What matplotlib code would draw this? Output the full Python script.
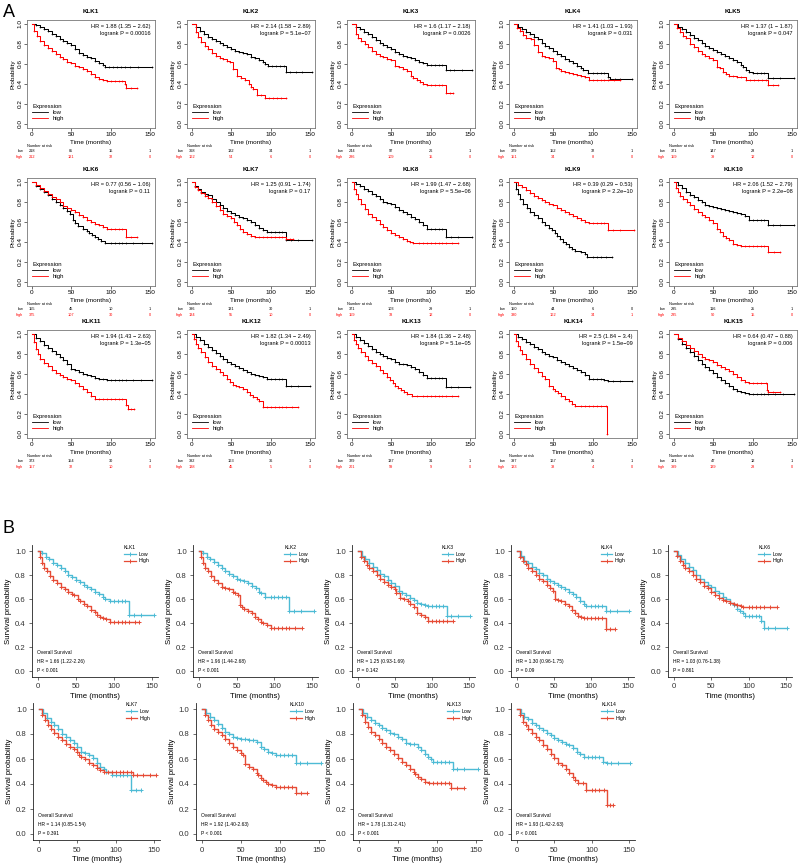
import matplotlib
matplotlib.use('Agg')
import matplotlib.pyplot as plt
from matplotlib.lines import Line2D
from matplotlib.transforms import blended_transform_factory

plt.rcParams['font.family'] = ['Liberation Sans', 'DejaVu Sans']

# ---------------- Panel A data (time, survival) ----------------
a1_low = [(0,1.00),(5,0.99),(10,0.97),(15,0.95),(20,0.93),(25,0.90),(30,0.88),(35,0.85),(40,0.83),(45,0.81),(50,0.79),(55,0.75),(60,0.71),(65,0.69),(70,0.67),(75,0.66),(80,0.63),(85,0.61),(90,0.59),(93,0.57),(98,0.57),(103,0.57),(108,0.57),(113,0.57),(118,0.57),(125,0.57),(135,0.57),(152,0.57)]
a1_high = [(0,1.00),(3,0.93),(6,0.88),(10,0.83),(15,0.79),(20,0.76),(25,0.73),(30,0.70),(35,0.67),(40,0.65),(45,0.62),(50,0.61),(55,0.58),(60,0.57),(65,0.55),(70,0.53),(75,0.50),(80,0.47),(85,0.45),(90,0.44),(95,0.43),(100,0.43),(105,0.43),(110,0.43),(115,0.43),(118,0.40),(120,0.36),(126,0.36),(133,0.36)]
a2_low = [(0,1.00),(5,0.97),(10,0.93),(15,0.90),(20,0.87),(25,0.85),(30,0.83),(35,0.81),(40,0.79),(45,0.77),(50,0.75),(55,0.73),(60,0.72),(65,0.71),(70,0.70),(75,0.67),(80,0.66),(85,0.64),(90,0.62),(93,0.60),(97,0.58),(102,0.58),(107,0.58),(112,0.58),(117,0.58),(120,0.52),(125,0.52),(132,0.52),(140,0.52),(152,0.52)]
a2_high = [(0,1.00),(5,0.92),(8,0.87),(12,0.82),(16,0.78),(20,0.75),(25,0.71),(30,0.68),(35,0.66),(40,0.65),(45,0.63),(48,0.62),(52,0.55),(57,0.48),(62,0.46),(67,0.44),(72,0.40),(75,0.37),(78,0.35),(83,0.29),(88,0.29),(93,0.26),(98,0.26),(103,0.26),(108,0.26),(113,0.26),(120,0.26)]
a3_low = [(0,1.00),(5,0.97),(10,0.95),(15,0.92),(20,0.90),(25,0.87),(30,0.84),(35,0.81),(40,0.79),(45,0.77),(50,0.75),(55,0.72),(60,0.70),(65,0.68),(70,0.67),(75,0.66),(80,0.64),(85,0.62),(90,0.61),(95,0.59),(100,0.59),(105,0.59),(110,0.59),(115,0.59),(120,0.54),(125,0.54),(130,0.54),(140,0.54),(152,0.54)]
a3_high = [(0,1.00),(5,0.90),(8,0.86),(12,0.83),(16,0.80),(20,0.77),(25,0.73),(30,0.70),(35,0.68),(40,0.67),(45,0.65),(50,0.64),(55,0.58),(60,0.57),(65,0.55),(70,0.53),(75,0.48),(78,0.46),(82,0.44),(86,0.42),(90,0.40),(95,0.39),(100,0.39),(105,0.39),(110,0.39),(115,0.39),(120,0.31),(124,0.31),(128,0.31)]
a4_low = [(0,1.00),(5,0.97),(10,0.95),(15,0.92),(20,0.90),(25,0.87),(30,0.85),(35,0.81),(40,0.78),(45,0.76),(50,0.73),(55,0.70),(60,0.68),(65,0.65),(70,0.63),(75,0.61),(80,0.58),(85,0.56),(88,0.54),(94,0.51),(100,0.51),(105,0.51),(110,0.51),(115,0.51),(120,0.47),(122,0.45),(128,0.45),(135,0.45),(150,0.45)]
a4_high = [(0,1.00),(4,0.96),(8,0.93),(12,0.89),(15,0.86),(22,0.85),(26,0.79),(30,0.72),(35,0.68),(40,0.67),(45,0.66),(50,0.63),(53,0.56),(57,0.55),(60,0.53),(65,0.52),(70,0.51),(75,0.50),(80,0.49),(85,0.48),(90,0.47),(95,0.44),(100,0.44),(105,0.44),(110,0.44),(115,0.44),(120,0.44),(127,0.44),(135,0.44)]
a5_low = [(0,1.00),(5,0.97),(10,0.95),(15,0.92),(20,0.89),(25,0.86),(30,0.84),(35,0.81),(40,0.78),(45,0.76),(50,0.74),(55,0.72),(60,0.70),(65,0.68),(70,0.66),(75,0.64),(80,0.62),(85,0.59),(88,0.57),(92,0.54),(95,0.52),(100,0.51),(105,0.51),(110,0.51),(115,0.51),(120,0.46),(126,0.46),(135,0.46),(152,0.46)]
a5_high = [(0,1.00),(4,0.96),(8,0.92),(12,0.88),(15,0.86),(20,0.80),(25,0.77),(30,0.73),(35,0.70),(40,0.68),(45,0.66),(50,0.64),(55,0.57),(58,0.56),(62,0.52),(66,0.50),(70,0.48),(75,0.48),(80,0.47),(85,0.47),(92,0.44),(97,0.44),(102,0.44),(107,0.44),(112,0.44),(117,0.44),(120,0.39),(126,0.39),(132,0.39)]
a6_low = [(0,1.00),(5,0.96),(10,0.93),(15,0.90),(20,0.87),(25,0.83),(30,0.80),(35,0.77),(40,0.74),(45,0.71),(48,0.68),(52,0.62),(55,0.59),(58,0.56),(65,0.53),(70,0.51),(72,0.49),(76,0.47),(80,0.45),(84,0.43),(88,0.41),(93,0.39),(100,0.39),(105,0.39),(110,0.39),(115,0.39),(120,0.39),(128,0.39),(140,0.39),(152,0.39)]
a6_high = [(0,1.00),(5,0.97),(10,0.94),(15,0.91),(20,0.88),(25,0.85),(30,0.83),(35,0.80),(40,0.76),(45,0.74),(50,0.72),(55,0.70),(60,0.67),(65,0.65),(70,0.62),(75,0.60),(80,0.58),(85,0.57),(90,0.55),(95,0.53),(100,0.53),(105,0.53),(110,0.53),(115,0.53),(120,0.45),(126,0.45),(133,0.45)]
a7_low = [(0,1.00),(4,0.96),(8,0.93),(12,0.90),(16,0.88),(20,0.87),(25,0.83),(30,0.80),(35,0.77),(40,0.74),(45,0.71),(50,0.69),(55,0.67),(60,0.65),(65,0.64),(70,0.62),(75,0.60),(80,0.57),(85,0.54),(90,0.52),(95,0.50),(100,0.50),(105,0.50),(110,0.50),(115,0.50),(120,0.42),(126,0.42),(135,0.42),(152,0.42)]
a7_high = [(0,1.00),(4,0.95),(8,0.92),(12,0.89),(16,0.86),(20,0.84),(25,0.80),(30,0.76),(35,0.72),(40,0.68),(45,0.66),(50,0.64),(54,0.60),(57,0.57),(61,0.53),(65,0.50),(70,0.48),(75,0.46),(80,0.45),(85,0.45),(90,0.45),(95,0.45),(100,0.45),(105,0.45),(110,0.45),(115,0.45),(120,0.43),(124,0.43),(128,0.43)]
a8_low = [(0,1.00),(5,0.98),(10,0.96),(15,0.93),(20,0.91),(25,0.88),(30,0.86),(35,0.83),(40,0.80),(45,0.79),(50,0.78),(55,0.75),(60,0.72),(65,0.70),(70,0.68),(75,0.65),(80,0.63),(85,0.60),(90,0.57),(95,0.53),(100,0.53),(105,0.53),(110,0.53),(115,0.53),(120,0.45),(126,0.45),(135,0.45),(152,0.45)]
a8_high = [(0,1.00),(3,0.93),(5,0.88),(8,0.83),(12,0.78),(16,0.73),(20,0.68),(25,0.65),(30,0.62),(35,0.58),(40,0.55),(45,0.52),(50,0.49),(55,0.47),(60,0.45),(65,0.43),(70,0.41),(74,0.40),(78,0.39),(85,0.39),(90,0.39),(95,0.39),(100,0.39),(105,0.39),(110,0.39),(115,0.39),(120,0.39),(127,0.39),(135,0.39)]
a9_low = [(0,1.00),(3,0.93),(5,0.88),(8,0.83),(12,0.78),(16,0.74),(20,0.70),(25,0.67),(30,0.64),(35,0.60),(40,0.57),(44,0.54),(48,0.52),(52,0.49),(55,0.46),(58,0.43),(62,0.40),(66,0.38),(70,0.35),(74,0.33),(78,0.31),(85,0.30),(90,0.28),(93,0.25),(100,0.25),(105,0.25),(110,0.25),(117,0.25),(125,0.25)]
a9_high = [(0,1.00),(5,0.97),(10,0.95),(15,0.92),(20,0.89),(25,0.86),(30,0.84),(35,0.82),(40,0.80),(45,0.78),(50,0.77),(55,0.74),(60,0.72),(65,0.70),(70,0.68),(75,0.66),(80,0.64),(85,0.62),(90,0.60),(95,0.59),(100,0.59),(105,0.59),(110,0.59),(115,0.59),(120,0.52),(126,0.52),(135,0.52),(152,0.52)]
a10_low = [(0,1.00),(5,0.97),(10,0.94),(15,0.90),(20,0.87),(25,0.85),(30,0.82),(35,0.80),(40,0.77),(45,0.76),(50,0.75),(55,0.74),(60,0.73),(65,0.72),(70,0.71),(75,0.70),(80,0.69),(85,0.68),(90,0.66),(95,0.62),(100,0.62),(105,0.62),(110,0.62),(115,0.62),(120,0.57),(126,0.57),(135,0.57),(152,0.57)]
a10_high = [(0,1.00),(3,0.94),(5,0.90),(8,0.86),(12,0.83),(16,0.80),(20,0.77),(25,0.73),(30,0.70),(35,0.67),(40,0.65),(45,0.62),(50,0.59),(55,0.53),(58,0.50),(62,0.46),(66,0.44),(70,0.42),(75,0.38),(80,0.37),(85,0.36),(90,0.36),(95,0.36),(100,0.36),(105,0.36),(110,0.36),(115,0.36),(120,0.30),(127,0.30),(135,0.30)]
a11_low = [(0,1.00),(5,0.96),(10,0.93),(15,0.89),(20,0.86),(25,0.83),(30,0.80),(35,0.77),(40,0.74),(45,0.70),(50,0.65),(55,0.64),(60,0.62),(65,0.60),(70,0.59),(75,0.58),(80,0.56),(85,0.55),(90,0.55),(95,0.54),(100,0.54),(105,0.54),(110,0.54),(115,0.54),(120,0.54),(128,0.54),(138,0.54),(152,0.54)]
a11_high = [(0,1.00),(3,0.92),(5,0.85),(8,0.80),(10,0.75),(15,0.71),(20,0.68),(25,0.64),(30,0.61),(35,0.59),(40,0.57),(45,0.55),(50,0.54),(55,0.51),(60,0.48),(65,0.45),(70,0.42),(75,0.38),(80,0.35),(85,0.35),(90,0.35),(95,0.35),(100,0.35),(105,0.35),(110,0.35),(115,0.35),(120,0.29),(122,0.25),(126,0.25),(130,0.25)]
a12_low = [(0,1.00),(5,0.97),(10,0.94),(15,0.90),(20,0.87),(25,0.84),(30,0.81),(35,0.78),(40,0.75),(45,0.72),(50,0.70),(55,0.68),(60,0.66),(65,0.64),(70,0.62),(75,0.60),(80,0.59),(85,0.58),(90,0.57),(95,0.55),(100,0.55),(105,0.55),(110,0.55),(115,0.55),(120,0.48),(126,0.48),(135,0.48),(150,0.48)]
a12_high = [(0,1.00),(3,0.95),(5,0.90),(8,0.86),(12,0.82),(16,0.77),(20,0.72),(25,0.68),(30,0.65),(35,0.62),(40,0.59),(45,0.55),(48,0.52),(52,0.49),(56,0.48),(60,0.47),(65,0.45),(70,0.42),(74,0.39),(78,0.37),(82,0.35),(85,0.33),(90,0.27),(95,0.27),(100,0.27),(105,0.27),(110,0.27),(115,0.27),(120,0.27),(127,0.27),(135,0.27)]
a13_low = [(0,1.00),(5,0.97),(10,0.94),(15,0.91),(20,0.88),(25,0.85),(30,0.82),(35,0.80),(40,0.78),(45,0.76),(50,0.75),(55,0.72),(60,0.70),(65,0.70),(70,0.69),(75,0.67),(80,0.65),(85,0.62),(90,0.59),(95,0.56),(100,0.56),(105,0.56),(110,0.56),(115,0.56),(120,0.47),(126,0.47),(135,0.47),(150,0.47)]
a13_high = [(0,1.00),(3,0.94),(5,0.90),(8,0.86),(12,0.82),(16,0.78),(20,0.74),(25,0.71),(30,0.68),(35,0.64),(40,0.61),(44,0.57),(48,0.54),(52,0.51),(55,0.48),(58,0.46),(62,0.44),(66,0.42),(70,0.40),(76,0.38),(82,0.38),(90,0.38),(95,0.38),(100,0.38),(105,0.38),(110,0.38),(115,0.38),(120,0.38),(127,0.38),(135,0.38)]
a14_low = [(0,1.00),(5,0.97),(10,0.95),(15,0.92),(20,0.90),(25,0.87),(30,0.85),(35,0.82),(40,0.80),(45,0.78),(50,0.77),(55,0.74),(60,0.72),(65,0.70),(70,0.68),(75,0.66),(80,0.64),(85,0.62),(90,0.59),(95,0.55),(100,0.55),(105,0.55),(110,0.55),(115,0.54),(120,0.53),(126,0.53),(135,0.53),(150,0.53)]
a14_high = [(0,1.00),(3,0.93),(5,0.88),(8,0.84),(10,0.80),(15,0.75),(20,0.70),(25,0.66),(30,0.62),(35,0.58),(40,0.55),(45,0.48),(50,0.45),(52,0.43),(56,0.41),(60,0.38),(65,0.35),(70,0.33),(74,0.30),(78,0.28),(85,0.28),(90,0.28),(95,0.28),(100,0.28),(105,0.28),(110,0.28),(117,0.28),(118,0.0)]
a15_low = [(0,1.00),(5,0.95),(10,0.90),(15,0.86),(20,0.82),(25,0.78),(30,0.74),(35,0.70),(40,0.67),(45,0.64),(50,0.61),(55,0.57),(60,0.54),(65,0.51),(70,0.48),(75,0.45),(80,0.43),(85,0.42),(90,0.41),(95,0.40),(100,0.40),(105,0.40),(110,0.40),(115,0.40),(120,0.40),(128,0.40),(138,0.40),(152,0.40)]
a15_high = [(0,1.00),(5,0.96),(10,0.93),(15,0.89),(20,0.86),(25,0.83),(30,0.80),(35,0.77),(40,0.75),(45,0.74),(50,0.72),(55,0.69),(60,0.67),(65,0.65),(70,0.63),(75,0.60),(80,0.57),(85,0.54),(90,0.52),(95,0.51),(100,0.51),(105,0.51),(110,0.51),(117,0.51),(118,0.44),(120,0.42),(126,0.42),(135,0.42)]

a_genes = ['KLK1','KLK2','KLK3','KLK4','KLK5','KLK6','KLK7','KLK8','KLK9','KLK10','KLK11','KLK12','KLK13','KLK14','KLK15']
a_low = [a1_low,a2_low,a3_low,a4_low,a5_low,a6_low,a7_low,a8_low,a9_low,a10_low,a11_low,a12_low,a13_low,a14_low,a15_low]
a_high = [a1_high,a2_high,a3_high,a4_high,a5_high,a6_high,a7_high,a8_high,a9_high,a10_high,a11_high,a12_high,a13_high,a14_high,a15_high]
a_hr = ['HR = 1.88 (1.35 \u2212 2.62)','HR = 2.14 (1.58 \u2212 2.89)','HR = 1.6 (1.17 \u2212 2.18)','HR = 1.41 (1.03 \u2212 1.93)','HR = 1.37 (1 \u2212 1.87)',
        'HR = 0.77 (0.56 \u2212 1.06)','HR = 1.25 (0.91 \u2212 1.74)','HR = 1.99 (1.47 \u2212 2.68)','HR = 0.39 (0.29 \u2212 0.53)','HR = 2.06 (1.52 \u2212 2.79)',
        'HR = 1.94 (1.43 \u2212 2.63)','HR = 1.82 (1.34 \u2212 2.49)','HR = 1.84 (1.36 \u2212 2.48)','HR = 2.5 (1.84 \u2212 3.4)','HR = 0.64 (0.47 \u2212 0.88)']
a_p = ['logrank P = 0.00016','logrank P = 5.1e\u221207','logrank P = 0.0026','logrank P = 0.031','logrank P = 0.047',
       'logrank P = 0.11','logrank P = 0.17','logrank P = 5.5e\u221206','logrank P = 2.2e\u221210','logrank P = 2.2e\u221208',
       'logrank P = 1.3e\u221205','logrank P = 0.00013','logrank P = 5.1e\u221205','logrank P = 1.5e\u221209','logrank P = 0.006']
a_risk_low = [[218,85,15,1],[368,132,34,1],[244,97,26,1],[379,152,32,1],[371,147,28,1],
              [155,45,10,1],[396,131,30,1],[371,103,29,1],[150,44,6,0],[295,116,25,1],
              [373,154,30,1],[392,163,36,1],[329,137,31,1],[397,167,36,1],[131,47,12,1]]
a_risk_high = [[212,121,32,0],[162,54,6,0],[286,109,15,0],[151,34,8,0],[159,39,12,0],
               [375,107,30,0],[134,55,10,0],[159,33,12,0],[380,162,34,1],[235,90,15,0],
               [157,32,10,0],[138,45,5,0],[201,59,9,0],[133,38,4,0],[399,139,28,0]]
risk_times = [0, 50, 100, 150]

# ---------------- Panel B data ----------------
b1_low = [(0,1.00),(5,0.98),(10,0.95),(15,0.93),(20,0.90),(25,0.88),(30,0.86),(35,0.83),(40,0.80),(45,0.78),(50,0.76),(55,0.74),(60,0.72),(65,0.70),(70,0.68),(75,0.66),(80,0.64),(85,0.62),(88,0.60),(95,0.58),(100,0.58),(105,0.58),(110,0.58),(115,0.58),(120,0.47),(126,0.47),(135,0.47),(152,0.47)]
b1_high = [(0,1.00),(3,0.95),(5,0.90),(8,0.86),(12,0.83),(16,0.79),(20,0.76),(25,0.73),(30,0.70),(35,0.68),(40,0.66),(45,0.64),(48,0.63),(52,0.60),(55,0.58),(60,0.56),(65,0.54),(70,0.51),(75,0.49),(78,0.47),(82,0.45),(85,0.44),(90,0.43),(95,0.41),(100,0.41),(105,0.41),(110,0.41),(115,0.41),(120,0.41),(127,0.41),(133,0.41)]
b2_low = [(0,1.00),(5,0.98),(10,0.95),(15,0.93),(20,0.91),(25,0.88),(30,0.86),(35,0.83),(40,0.81),(45,0.79),(50,0.77),(55,0.76),(60,0.75),(65,0.73),(70,0.71),(75,0.69),(80,0.66),(82,0.65),(88,0.62),(95,0.62),(100,0.62),(105,0.62),(110,0.62),(115,0.62),(120,0.50),(126,0.50),(135,0.50),(152,0.50)]
b2_high = [(0,1.00),(3,0.95),(5,0.90),(8,0.86),(12,0.83),(16,0.79),(20,0.76),(25,0.73),(30,0.70),(35,0.69),(40,0.68),(45,0.66),(48,0.65),(52,0.63),(54,0.55),(57,0.53),(60,0.52),(65,0.50),(70,0.48),(74,0.45),(78,0.43),(82,0.41),(85,0.40),(90,0.38),(95,0.36),(100,0.36),(105,0.36),(110,0.36),(115,0.36),(120,0.36),(128,0.36),(137,0.36)]
b3_low = [(0,1.00),(5,0.96),(10,0.93),(15,0.90),(20,0.87),(25,0.84),(30,0.81),(35,0.79),(40,0.76),(45,0.73),(50,0.71),(55,0.67),(60,0.65),(65,0.63),(70,0.61),(75,0.59),(80,0.57),(85,0.56),(90,0.55),(95,0.54),(100,0.54),(105,0.54),(110,0.54),(115,0.54),(120,0.46),(126,0.46),(135,0.46),(152,0.46)]
b3_high = [(0,1.00),(4,0.95),(8,0.92),(12,0.88),(15,0.86),(20,0.83),(25,0.80),(30,0.77),(35,0.74),(40,0.72),(45,0.70),(50,0.68),(52,0.65),(57,0.61),(62,0.60),(67,0.58),(70,0.56),(75,0.53),(80,0.48),(85,0.47),(90,0.45),(95,0.42),(100,0.42),(105,0.42),(110,0.42),(115,0.42),(120,0.42),(128,0.42)]
b4_low = [(0,1.00),(5,0.96),(10,0.92),(15,0.90),(20,0.87),(25,0.85),(30,0.82),(35,0.80),(40,0.77),(45,0.75),(50,0.73),(55,0.72),(60,0.70),(65,0.68),(70,0.66),(75,0.64),(80,0.62),(85,0.58),(90,0.56),(93,0.54),(100,0.54),(105,0.54),(110,0.54),(115,0.54),(120,0.50),(126,0.50),(135,0.50),(152,0.50)]
b4_high = [(0,1.00),(4,0.95),(8,0.92),(12,0.89),(15,0.86),(20,0.83),(25,0.80),(30,0.77),(35,0.75),(40,0.72),(45,0.69),(48,0.67),(52,0.60),(56,0.59),(60,0.58),(65,0.56),(70,0.54),(74,0.51),(78,0.48),(82,0.46),(86,0.45),(90,0.44),(95,0.44),(100,0.44),(105,0.44),(110,0.44),(115,0.44),(120,0.35),(126,0.35),(133,0.35)]
b6_low = [(0,1.00),(5,0.97),(10,0.93),(15,0.90),(20,0.87),(25,0.84),(30,0.80),(35,0.77),(40,0.74),(45,0.72),(50,0.70),(55,0.67),(60,0.65),(65,0.62),(70,0.60),(75,0.57),(80,0.55),(85,0.52),(88,0.50),(92,0.48),(95,0.46),(100,0.46),(105,0.46),(110,0.46),(114,0.46),(117,0.42),(120,0.36),(126,0.36),(135,0.36),(152,0.36)]
b6_high = [(0,1.00),(4,0.96),(8,0.92),(12,0.88),(15,0.86),(20,0.83),(25,0.80),(30,0.77),(35,0.74),(40,0.71),(45,0.69),(50,0.66),(55,0.63),(60,0.61),(65,0.59),(70,0.58),(75,0.57),(80,0.56),(85,0.55),(90,0.54),(92,0.53),(100,0.53),(105,0.53),(110,0.53),(115,0.53),(120,0.53),(128,0.53),(138,0.53)]
b7_low = [(0,1.00),(5,0.97),(10,0.93),(15,0.90),(20,0.87),(25,0.84),(30,0.80),(35,0.78),(40,0.75),(45,0.73),(50,0.70),(55,0.66),(60,0.65),(65,0.63),(70,0.61),(75,0.57),(80,0.54),(85,0.52),(88,0.50),(95,0.47),(100,0.47),(105,0.47),(110,0.47),(115,0.47),(120,0.35),(126,0.35),(133,0.35)]
b7_high = [(0,1.00),(4,0.95),(8,0.91),(12,0.87),(15,0.84),(20,0.81),(25,0.78),(30,0.75),(35,0.72),(40,0.70),(45,0.68),(50,0.66),(52,0.63),(55,0.62),(60,0.60),(65,0.57),(70,0.55),(75,0.53),(80,0.51),(85,0.50),(90,0.50),(95,0.50),(100,0.50),(105,0.50),(110,0.50),(115,0.50),(120,0.50),(122,0.47),(128,0.47),(135,0.47),(145,0.47),(152,0.47)]
b10_low = [(0,1.00),(5,0.97),(10,0.94),(15,0.91),(20,0.88),(25,0.85),(30,0.82),(35,0.80),(40,0.78),(45,0.77),(50,0.76),(55,0.76),(60,0.75),(65,0.75),(70,0.74),(75,0.70),(80,0.68),(85,0.66),(90,0.65),(95,0.63),(100,0.63),(105,0.63),(110,0.63),(115,0.63),(120,0.57),(126,0.57),(135,0.57),(152,0.57)]
b10_high = [(0,1.00),(4,0.95),(8,0.91),(12,0.87),(15,0.84),(20,0.82),(25,0.79),(30,0.76),(35,0.73),(40,0.70),(45,0.67),(50,0.65),(53,0.63),(55,0.56),(60,0.54),(65,0.52),(70,0.49),(72,0.47),(76,0.45),(78,0.43),(82,0.42),(85,0.40),(90,0.39),(95,0.38),(100,0.38),(105,0.38),(110,0.38),(115,0.38),(120,0.33),(127,0.33),(135,0.33)]
b13_low = [(0,1.00),(5,0.97),(10,0.94),(15,0.91),(20,0.89),(25,0.87),(30,0.85),(35,0.83),(40,0.81),(45,0.80),(50,0.78),(55,0.76),(60,0.73),(65,0.72),(70,0.72),(75,0.70),(80,0.67),(85,0.64),(88,0.62),(92,0.60),(95,0.58),(100,0.58),(105,0.58),(110,0.58),(115,0.58),(120,0.52),(126,0.52),(135,0.52),(152,0.52)]
b13_high = [(0,1.00),(4,0.95),(8,0.90),(12,0.86),(15,0.82),(20,0.79),(25,0.76),(30,0.73),(35,0.70),(40,0.67),(45,0.64),(50,0.61),(55,0.58),(60,0.55),(65,0.52),(70,0.50),(72,0.48),(76,0.46),(80,0.44),(85,0.42),(90,0.41),(95,0.41),(100,0.41),(105,0.41),(110,0.41),(116,0.41),(118,0.37),(126,0.37),(135,0.37)]
b14_low = [(0,1.00),(5,0.97),(10,0.94),(15,0.92),(20,0.89),(25,0.87),(30,0.85),(35,0.83),(40,0.81),(45,0.79),(50,0.77),(55,0.75),(60,0.74),(65,0.72),(70,0.71),(75,0.69),(80,0.66),(85,0.64),(90,0.62),(95,0.62),(100,0.62),(105,0.62),(110,0.62),(115,0.58),(120,0.57),(126,0.57),(135,0.57),(152,0.57)]
b14_high = [(0,1.00),(4,0.95),(8,0.90),(12,0.87),(15,0.84),(20,0.81),(25,0.78),(30,0.75),(35,0.71),(40,0.68),(45,0.64),(50,0.61),(55,0.57),(60,0.55),(65,0.52),(70,0.49),(75,0.46),(78,0.43),(82,0.41),(88,0.41),(92,0.35),(100,0.35),(105,0.35),(110,0.35),(117,0.35),(120,0.23),(124,0.23),(128,0.23)]

b_genes = ['KLK1','KLK2','KLK3','KLK4','KLK6','KLK7','KLK10','KLK13','KLK14']
b_low = [b1_low,b2_low,b3_low,b4_low,b6_low,b7_low,b10_low,b13_low,b14_low]
b_high = [b1_high,b2_high,b3_high,b4_high,b6_high,b7_high,b10_high,b13_high,b14_high]
b_hr = ['HR = 1.66 (1.22-2.26)','HR = 1.96 (1.44-2.68)','HR = 1.25 (0.93-1.69)','HR = 1.30 (0.96-1.75)','HR = 1.03 (0.76-1.38)',
        'HR = 1.14 (0.85-1.54)','HR = 1.92 (1.40-2.63)','HR = 1.78 (1.31-2.41)','HR = 1.93 (1.42-2.63)']
b_p = ['P < 0.001','P < 0.001','P = 0.142','P = 0.09','P = 0.861','P = 0.391','P < 0.001','P < 0.001','P < 0.001']

# ---------------- figure ----------------
W, H = 800, 868
fig = plt.figure(figsize=(W / 100, H / 100), dpi=100)

def px_axes(left, top, right, bottom):
    return fig.add_axes([left / W, 1 - bottom / H, (right - left) / W, (bottom - top) / H])

def unzip(pts):
    return [p[0] for p in pts], [p[1] for p in pts]

# Panel A geometry (pixel position of t=0 and of survival 1.0)
A_X0 = [32, 192, 352, 514, 674]
A_Y1 = [24, 182, 334]
A_SX = 118 / 150.0
A_BOX = '#777777'
A_RED = '#FF0000'

for i, gene in enumerate(a_genes):
    r, c = divmod(i, 5)
    x0, y1 = A_X0[c], A_Y1[r]
    ax = px_axes(x0 - 6 * A_SX, y1 - 4, x0 + 156 * A_SX, y1 + 104)
    ax.set_xlim(-6, 156)
    ax.set_ylim(-0.04, 1.04)
    for curve, col in ((a_low[i], 'black'), (a_high[i], A_RED)):
        t, s = unzip(curve)
        ax.step(t, s, where='post', color=col, lw=0.75)
        ax.plot(t[1:], s[1:], ls='none', marker='+', ms=2.0, mew=0.45, color=col)
    for sp in ax.spines.values():
        sp.set_color(A_BOX)
        sp.set_linewidth(0.6)
    ax.set_xticks([0, 50, 100, 150])
    ax.set_yticks([0, 0.2, 0.4, 0.6, 0.8, 1.0])
    ax.set_yticklabels(['0.0', '0.2', '0.4', '0.6', '0.8', '1.0'], rotation=90, va='center')
    ax.tick_params(labelsize=4.6, length=2, width=0.5, pad=1.2, color='#333333')
    ax.set_xlabel('Time (months)', fontsize=4.6, labelpad=1.5)
    ax.set_ylabel('Probability', fontsize=4.6, labelpad=1.5)
    ax.set_title(gene, fontsize=4.5, fontweight='bold', pad=5)
    ax.text(0.965, 0.965, a_hr[i] + '\n' + a_p[i], transform=ax.transAxes, ha='right', va='top',
            fontsize=4.1, linespacing=1.5, multialignment='right')
    hs = [Line2D([], [], color='black', lw=0.6), Line2D([], [], color=A_RED, lw=0.6)]
    ax.legend(hs, ['low', 'high'], title='Expression', loc='lower left', bbox_to_anchor=(0.0, 0.02),
              frameon=False, fontsize=4.3, title_fontsize=4.3, handlelength=2.6, handletextpad=0.8,
              labelspacing=0.15, borderpad=0.3, alignment='left')
    # number at risk table
    tr = blended_transform_factory(ax.transData, ax.transAxes)
    ax.text(-6, -0.165, 'Number at risk', transform=tr, fontsize=2.8, ha='left', va='center')
    ax.text(-11, -0.21, 'low', transform=tr, fontsize=2.8, ha='right', va='center')
    ax.text(-11, -0.265, 'high', transform=tr, fontsize=2.8, ha='right', va='center', color=A_RED)
    for k, tt in enumerate(risk_times):
        ax.text(tt, -0.21, str(a_risk_low[i][k]), transform=tr, fontsize=2.8, ha='center', va='center')
        ax.text(tt, -0.265, str(a_risk_high[i][k]), transform=tr, fontsize=2.8, ha='center', va='center',
                color=A_RED)

# Panel B geometry
B_X0 = [38, 199, 358, 517, 674, 39, 202, 359, 517]
B_X150 = [152, 312, 469, 628, 786, 154, 319, 476, 629]
B_Y1 = [551, 551, 551, 551, 551, 709, 709, 709, 709]
B_Y0 = [671, 671, 671, 671, 671, 834, 834, 834, 834]
B_BLUE = '#4DBBD5'
B_RED = '#E64B35'

for i, gene in enumerate(b_genes):
    x0, x150, y1, y0 = B_X0[i], B_X150[i], B_Y1[i], B_Y0[i]
    sx = (x150 - x0) / 150.0
    sy = (y0 - y1)
    ax = px_axes(x0 - 8 * sx, y1 - 0.05 * sy, x0 + 158 * sx, y0 + 0.05 * sy)
    ax.set_xlim(-8, 158)
    ax.set_ylim(-0.05, 1.05)
    for curve, col in ((b_low[i], B_BLUE), (b_high[i], B_RED)):
        t, s = unzip(curve)
        ax.step(t, s, where='post', color=col, lw=1.0)
        ax.plot(t[1:], s[1:], ls='none', marker='+', ms=3.4, mew=0.7, color=col)
    for side in ('top', 'right'):
        ax.spines[side].set_visible(False)
    for side in ('left', 'bottom'):
        ax.spines[side].set_linewidth(0.6)
        ax.spines[side].set_color('#222222')
    ax.set_xticks([0, 50, 100, 150])
    ax.set_yticks([0, 0.2, 0.4, 0.6, 0.8, 1.0])
    ax.set_yticklabels(['0.0', '0.2', '0.4', '0.6', '0.8', '1.0'])
    ax.tick_params(labelsize=5.6, length=2.5, width=0.5, pad=2, colors='#333333')
    ax.set_xlabel('Time (months)', fontsize=5.6, labelpad=2)
    ax.set_ylabel('Survival probability', fontsize=5.6, labelpad=2)
    hs = [Line2D([], [], color=B_BLUE, lw=0.9, marker='+', ms=3.4, mew=0.7),
          Line2D([], [], color=B_RED, lw=0.9, marker='+', ms=3.4, mew=0.7)]
    ax.legend(hs, ['Low', 'High'], title=gene, loc='upper left', bbox_to_anchor=(0.70, 1.03),
              frameon=False, fontsize=3.8, title_fontsize=3.6, alignment='left', handlelength=2.2,
              handletextpad=0.5, labelspacing=0.35, borderpad=0.2)
    ax.text(0.04, 0.03, 'Overall Survival\n' + b_hr[i] + '\n' + b_p[i], transform=ax.transAxes,
            fontsize=3.5, ha='left', va='bottom', linespacing=2.0)

fig.text(3 / W, 1 - 4 / H, 'A', fontsize=13, ha='left', va='top')
fig.text(3 / W, 1 - 520 / H, 'B', fontsize=13, ha='left', va='top')

fig.savefig('out.png', dpi=100)
